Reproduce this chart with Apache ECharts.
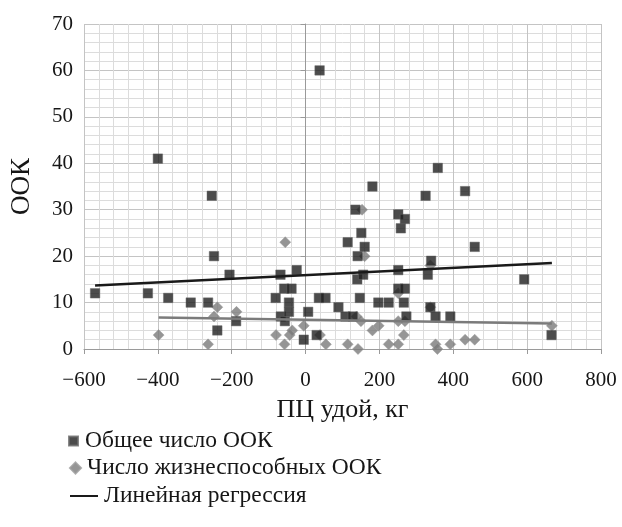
<!DOCTYPE html>
<html>
<head>
<meta charset="utf-8">
<script src="https://cdn.jsdelivr.net/npm/echarts@6/dist/echarts.min.js"></script>
<style>html,body{margin:0;padding:0;background:#fff;}#c{width:622px;height:527px;}</style>
</head>
<body>
<div id="c"></div>
<script>
// Общее число ООК: [ПЦ удой, ООК]
var totalOOK = [
  [-570,12],[-427,12],[-400,41],[-372,11],[-311,10],[-264,10],[-254,33],[-248,20],[-239,4],[-206,16],[-188,6],
  [-81,11],[-68,16],[-67,7],[-58,13],[-56,6],[-45,10],[-45,8],[-38,13],[-24,17],[-5,2],[7,8],[30,3],[36,11],[38,60],
  [54,11],[89,9],[108,7],[114,23],[128,7],[135,30],[140,15],[141,20],[147,11],[151,25],[156,16],[160,22],[181,35],
  [197,10],[225,10],[251,29],[251,17],[251,13],[258,26],[266,10],[269,28],[269,13],[273,7],[325,33],[331,16],[338,9],
  [340,19],[352,7],[358,39],[392,7],[432,34],[458,22],[592,15],[666,3]
];
// Число жизнеспособных ООК
var viableOOK = [
  [-398,3],[-264,1],[-248,7],[-239,9],[-187,8],[-80,3],[-57,1],[-55,23],[-43,3],[-36,4],[-5,5],[39,3],[55,1],
  [114,1],[138,7],[142,0],[150,6],[153,30],[160,20],[181,4],[198,5],[225,1],[251,1],[251,6],[251,12],[266,3],
  [269,6],[338,18],[338,9],[352,1],[357,0],[392,1],[432,2],[458,2],[667,5]
];
// Линейная регрессия (концы линий)
var regTotal = [[-570,13.7],[667,18.5]];
var regViable = [[-398,6.8],[667,5.5]];

var seriesNames = ['Общее число ООК','Число жизнеспособных ООК','Линейная регрессия'];
var xName = 'ПЦ удой, кг';
var yName = 'ООК';

var font = 'Liberation Serif';
var txt = '#161616';
var chart = echarts.init(document.getElementById('c'));
chart.setOption({
  animation:false,
  textStyle:{fontFamily:font},
  grid:{left:84,right:21,top:24,bottom:178},
  xAxis:{
    type:'value',min:-600,max:800,interval:200,
    name:xName,nameLocation:'middle',nameGap:48,
    nameTextStyle:{fontFamily:font,fontSize:26,color:txt},
    axisLine:{show:true,onZero:false,lineStyle:{color:'#9a9a9a',width:1}},
    axisTick:{show:true,length:5,lineStyle:{color:'#9a9a9a'}},
    axisLabel:{fontFamily:font,fontSize:21,color:txt,margin:21,
      formatter:function(v){return v<0?'\u2212'+(-v):String(v);}},
    splitLine:{show:true,lineStyle:{color:'#c4c4c4',width:1}},
    minorTick:{show:false,splitNumber:5},
    minorSplitLine:{show:true,lineStyle:{color:'#dcdcdc',width:1}}
  },
  yAxis:{
    type:'value',min:0,max:70,interval:10,
    name:yName,nameLocation:'middle',nameGap:49,
    nameTextStyle:{fontFamily:font,fontSize:27,color:txt},
    axisLine:{show:true,lineStyle:{color:'#9a9a9a',width:1}},
    axisTick:{show:true,length:5,lineStyle:{color:'#9a9a9a'}},
    axisLabel:{fontFamily:font,fontSize:21,color:txt,margin:11},
    splitLine:{show:true,lineStyle:{color:'#c4c4c4',width:1}},
    minorTick:{show:false,splitNumber:5},
    minorSplitLine:{show:true,lineStyle:{color:'#dcdcdc',width:1}}
  },
  legend:[
    {data:[{name:seriesNames[0],icon:'rect'}],left:68,top:429,padding:0,orient:'vertical',itemWidth:9,itemHeight:9,itemGap:0,
     textStyle:{fontFamily:font,fontSize:23.5,color:txt,lineHeight:24,padding:[0,0,0,2]}},
    {data:[{name:seriesNames[1],icon:'diamond'}],left:69,top:456,padding:0,orient:'vertical',itemWidth:11,itemHeight:11,itemGap:0,
     textStyle:{fontFamily:font,fontSize:23.5,color:txt,lineHeight:24,padding:[0,0,0,1]}},
    {data:[{name:seriesNames[2],icon:'rect'}],left:70,top:484,padding:0,orient:'vertical',itemWidth:28,itemHeight:2,itemGap:0,
     textStyle:{fontFamily:font,fontSize:23.5,color:txt,lineHeight:24,padding:[0,0,0,1]}}
  ],
  series:[
    {name:seriesNames[1],type:'scatter',data:viableOOK,symbol:'diamond',symbolSize:11,z:2,
     itemStyle:{color:'#7b7b7b',borderColor:'#9a9a9a',borderWidth:0.6}},
    {name:seriesNames[0],type:'scatter',data:totalOOK,symbol:'rect',symbolSize:9.5,z:3,
     itemStyle:{color:'#1f1f1f',borderColor:'#6a6a6a',borderWidth:0.6}},
    {name:seriesNames[2],type:'line',data:regTotal,symbol:'none',z:4,
     lineStyle:{color:'#1a1a1a',width:2.5},itemStyle:{color:'#1a1a1a'}},
    {name:seriesNames[2]+' ',type:'line',data:regViable,symbol:'none',z:4,
     lineStyle:{color:'#7b7b7b',width:2.5},itemStyle:{color:'#7b7b7b'}}
  ]
});
</script>
</body>
</html>
